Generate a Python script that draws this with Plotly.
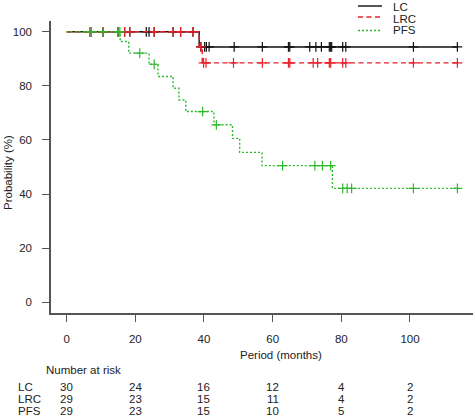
import plotly.graph_objects as go

# ---- data ----
lc_time = [0, 38.6, 113.8]
lc_surv = [100, 94.4, 94.4]
lc_cens = [6.7, 7.2, 10.6, 15.0, 16.9, 18.4, 23.2, 24.0, 25.5, 31.0, 33.2, 36.8,
           39.1, 40.2, 40.7, 41.5, 48.8, 57.0, 64.6, 65.0, 70.8, 72.6, 74.2,
           76.5, 76.9, 77.2, 80.4, 81.3, 101.0, 113.8]

lrc_time = [0, 38.6, 39.5, 113.8]
lrc_surv = [100, 94.4, 88.5, 88.5]
lrc_cens = [6.7, 7.2, 10.6, 15.0, 16.9, 18.4, 25.5, 31.0, 33.2, 36.8, 39.1,
            39.9, 40.6, 48.6, 57.0, 64.6, 65.0, 71.8, 73.1, 76.5, 76.9,
            80.4, 81.3, 101.0, 113.8]

pfs_time = [0, 15.6, 18.1, 24.0, 26.6, 31.0, 32.7, 34.7, 42.9, 48.3, 50.4, 56.9, 77.4, 113.8]
pfs_surv = [100, 96.4, 92.1, 88.0, 83.5, 79.1, 74.8, 70.5, 65.6, 60.6, 55.4, 50.5, 42.1, 42.1]
pfs_cens = [6.7, 7.2, 10.6, 15.0, 15.5, 21.3, 25.5, 39.6, 43.6, 62.9, 72.3, 74.5,
            76.9, 80.4, 81.7, 83.0, 101.0, 113.8]

series_names = ["LC", "LRC", "PFS"]
risk_times = [0, 20, 40, 60, 80, 100]
risk_lc = [30, 24, 16, 12, 4, 2]
risk_lrc = [29, 23, 15, 11, 4, 2]
risk_pfs = [29, 23, 15, 10, 5, 2]
x_ticks = [0, 20, 40, 60, 80, 100]
y_ticks = [0, 20, 40, 60, 80, 100]

# ---- styling ----
W, H = 475, 419
L, R, T, B = 51, 2, 21, 106
PW, PH = W - L - R, H - T - B
FONT = "Liberation Sans, Arial, sans-serif"
FS = 11.5
TXT = "#222222"
AX = "#555555"
COLORS = ["#111111", "#e8202a", "#2eb82e"]
DASHES = ["solid", "5px,3.5px", "2px,2px"]


def fx(p):
    # pixel x -> paper x
    return (p - L) / PW


def fy(p):
    # pixel y -> paper y
    return (H - B - p) / PH


def surv_at(times, surv, t):
    v = surv[0]
    for tt, s in zip(times, surv):
        if tt <= t:
            v = s
    return v


fig = go.Figure()
curves = [(lc_time, lc_surv, lc_cens), (lrc_time, lrc_surv, lrc_cens), (pfs_time, pfs_surv, pfs_cens)]
for i, (tm, sv, cs) in enumerate(curves):
    fig.add_trace(go.Scatter(x=tm, y=sv, mode="lines", line_shape="hv", name=series_names[i],
                             line=dict(color=COLORS[i], width=1.4, dash=DASHES[i]),
                             showlegend=False, hoverinfo="skip"))
    fig.add_trace(go.Scatter(x=cs, y=[surv_at(tm, sv, c) for c in cs], mode="markers",
                             marker=dict(symbol="cross-thin", size=7,
                                         line=dict(color=COLORS[i], width=1.2)),
                             showlegend=False, hoverinfo="skip"))

fig.update_xaxes(range=[-4.55, 118.35], tickvals=x_ticks, ticks="outside", ticklen=7,
                 tickwidth=1.3, tickcolor=AX, showline=True, linecolor=AX, linewidth=1.5,
                 showgrid=False, zeroline=False, ticklabelstandoff=7,
                 tickfont=dict(family=FONT, size=FS, color=TXT))
fig.update_yaxes(range=[-4, 104], tickvals=y_ticks, ticks="outside", ticklen=7,
                 tickwidth=1.3, tickcolor=AX, showline=True, linecolor=AX, linewidth=1.5,
                 showgrid=False, zeroline=False, ticklabelstandoff=8,
                 tickfont=dict(family=FONT, size=FS, color=TXT))

ann = []
ann.append(dict(text="Probability (%)", x=fx(8), y=fy(173), xref="paper", yref="paper",
                textangle=-90, showarrow=False, xanchor="center", yanchor="middle",
                font=dict(family=FONT, size=FS, color=TXT)))
ann.append(dict(text="Period (months)", x=fx(281), y=fy(355), xref="paper", yref="paper",
                showarrow=False, xanchor="center", yanchor="middle",
                font=dict(family=FONT, size=FS, color=TXT)))
ann.append(dict(text="Number at risk", x=fx(44), y=fy(370), xref="paper", yref="paper",
                showarrow=False, xanchor="left", yanchor="middle",
                font=dict(family=FONT, size=FS, color=TXT)))
rows = [risk_lc, risk_lrc, risk_pfs]
row_y = [387, 399, 411]
for name, vals, ry in zip(series_names, rows, row_y):
    ann.append(dict(text=name, x=fx(16), y=fy(ry), xref="paper", yref="paper",
                    showarrow=False, xanchor="left", yanchor="middle",
                    font=dict(family=FONT, size=FS, color=TXT)))
    for t, v in zip(risk_times, vals):
        ann.append(dict(text=str(v), x=t, y=fy(ry), xref="x", yref="paper",
                        showarrow=False, xanchor="center", yanchor="middle",
                        font=dict(family=FONT, size=FS, color=TXT)))

# legend (manual, to match the compact spacing)
shapes = []
leg_line_y = [6, 17, 30.5]
leg_text_y = [7.5, 18.5, 30]
for i, name in enumerate(series_names):
    shapes.append(dict(type="line", xref="paper", yref="paper", x0=fx(358), x1=fx(382),
                       y0=fy(leg_line_y[i]), y1=fy(leg_line_y[i]),
                       line=dict(color=COLORS[i], width=1.4, dash=DASHES[i])))
    ann.append(dict(text=name, x=fx(392), y=fy(leg_text_y[i]), xref="paper", yref="paper",
                    showarrow=False, xanchor="left", yanchor="middle", borderpad=0,
                    font=dict(family=FONT, size=FS, color=TXT)))

fig.update_layout(width=W, height=H, margin=dict(l=L, r=R, t=T, b=B, pad=0),
                  plot_bgcolor="white", paper_bgcolor="white",
                  annotations=ann, shapes=shapes, showlegend=False)

fig.write_html("out.html", config={"displayModeBar": False},
               post_script="document.body.style.margin='0px';document.body.style.overflow='hidden';")
